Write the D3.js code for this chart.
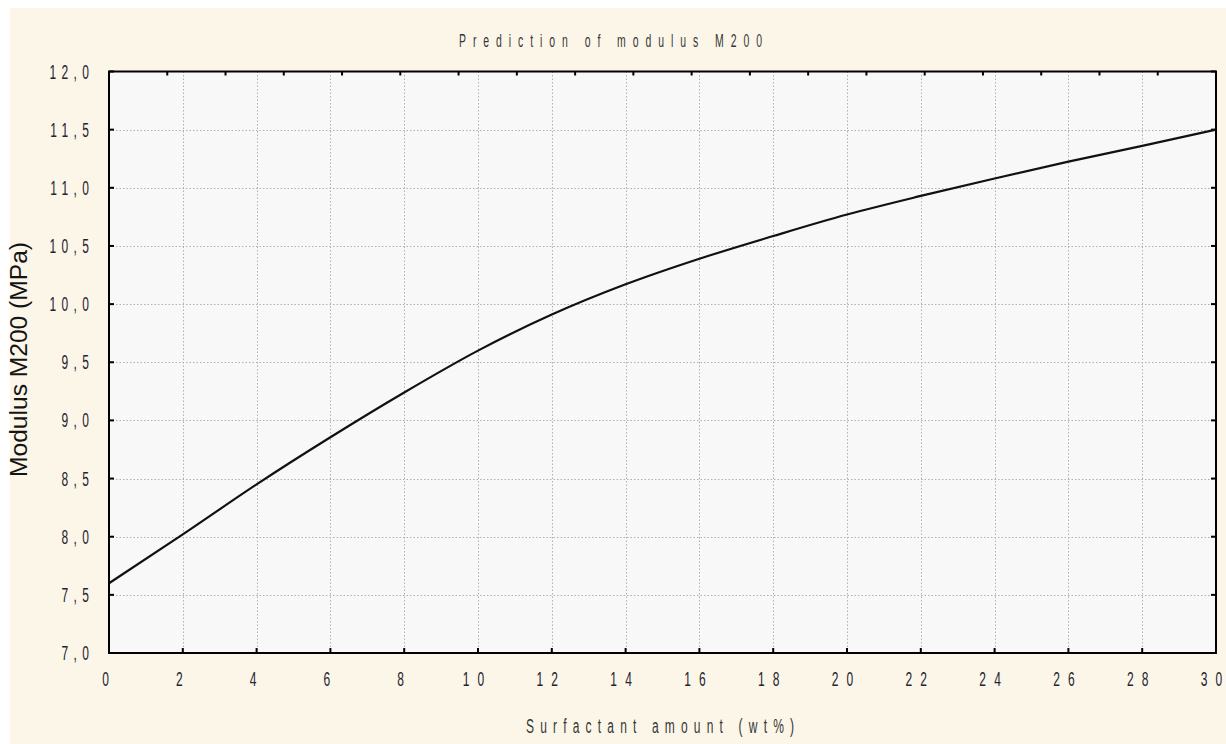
<!DOCTYPE html>
<html>
<head>
<meta charset="utf-8">
<script src="https://cdn.jsdelivr.net/npm/d3@7"></script>
<style>
  html, body { margin: 0; padding: 0; background: #ffffff; }
  svg { display: block; }
</style>
</head>
<body>
<svg id="chart" width="1226" height="744"></svg>
<script>
// Predicted modulus M200 against surfactant loading
const surfactant = [0, 2, 4, 6, 8, 10, 12, 14, 16, 18, 20, 22, 24, 26, 28, 30];
const modulus    = [7.60, 8.02, 8.45, 8.855, 9.24, 9.60, 9.91, 10.17, 10.39, 10.585,
                    10.77, 10.93, 11.08, 11.225, 11.36, 11.50];

const xTickValues = [0, 2, 4, 6, 8, 10, 12, 14, 16, 18, 20, 22, 24, 26, 28, 30];
const yTickValues = [7.0, 7.5, 8.0, 8.5, 9.0, 9.5, 10.0, 10.5, 11.0, 11.5, 12.0];

const chartTitle = "Prediction of modulus M200";
const xAxisTitle = "Surfactant amount (wt%)";
const yAxisTitle = "Modulus M200 (MPa)";

const svg = d3.select("#chart");
const W = 1226, H = 744;
const plot = { left: 109, top: 71.5, right: 1216, bottom: 653 };

const x = d3.scaleLinear().domain([0, 30]).range([plot.left, plot.right]);
const y = d3.scaleLinear().domain([7, 12]).range([plot.bottom, plot.top]);
// the top frame carries its own evenly spaced minor ticks
const topTick = d3.scaleLinear().domain([0, 19]).range([plot.left, plot.right]);

const decimalComma = v => d3.format(".1f")(v).replace(".", ",");

// page background
svg.append("rect").attr("x", 10).attr("y", 8).attr("width", W - 10).attr("height", H - 8)
  .attr("fill", "#fcf6e9");

// plot area
svg.append("rect")
  .attr("x", plot.left).attr("y", plot.top)
  .attr("width", plot.right - plot.left).attr("height", plot.bottom - plot.top)
  .attr("fill", "#f8f8f8");

// dotted grid
const grid = svg.append("g").attr("stroke", "#b0b0b0").attr("stroke-width", 1)
  .attr("stroke-dasharray", "1.5,2");
grid.selectAll("line.v").data(xTickValues.filter(d => d > 0 && d < 30)).join("line")
  .attr("x1", d => Math.round(x(d)) + 0.5).attr("x2", d => Math.round(x(d)) + 0.5)
  .attr("y1", plot.top).attr("y2", plot.bottom);
grid.selectAll("line.h").data(yTickValues.filter(d => d > 7 && d < 12)).join("line")
  .attr("y1", d => Math.round(y(d)) + 0.5).attr("y2", d => Math.round(y(d)) + 0.5)
  .attr("x1", plot.left).attr("x2", plot.right);

// inward ticks on all four sides
const ticks = svg.append("g").attr("stroke", "#000").attr("stroke-width", 2);
ticks.selectAll("line.b").data(xTickValues).join("line")
  .attr("x1", d => x(d)).attr("x2", d => x(d))
  .attr("y1", plot.bottom).attr("y2", plot.bottom - 5);
ticks.selectAll("line.l").data(yTickValues).join("line")
  .attr("y1", d => y(d)).attr("y2", d => y(d))
  .attr("x1", plot.left).attr("x2", plot.left + 5);
ticks.selectAll("line.r").data(yTickValues).join("line")
  .attr("y1", d => y(d)).attr("y2", d => y(d))
  .attr("x1", plot.right).attr("x2", plot.right - 5);
ticks.selectAll("line.t").data(d3.range(1, 19)).join("line")
  .attr("x1", d => topTick(d)).attr("x2", d => topTick(d))
  .attr("y1", plot.top).attr("y2", plot.top + 4);

// response curve
const line = d3.line()
  .x((d, i) => x(surfactant[i]))
  .y(d => y(d))
  .curve(d3.curveMonotoneX);
svg.append("path")
  .attr("d", line(modulus))
  .attr("fill", "none")
  .attr("stroke", "#111")
  .attr("stroke-width", 2.2)
  .attr("stroke-linejoin", "round");

// frame
svg.append("rect")
  .attr("x", plot.left).attr("y", plot.top)
  .attr("width", plot.right - plot.left).attr("height", plot.bottom - plot.top)
  .attr("fill", "none").attr("stroke", "#000").attr("stroke-width", 2);

// narrow, letter-spaced text
function condensed(str, o) {
  const g = svg.append("g")
    .attr("transform", `translate(${o.x},${o.y}) scale(${o.sx},1)`);
  const t = g.append("text")
    .text(str)
    .attr("font-family", "'Liberation Sans', Arial, sans-serif")
    .attr("font-size", o.size)
    .attr("fill", o.fill || "#24242f");
  if (o.width) {
    t.attr("x", -o.width / (2 * o.sx))
      .attr("textLength", o.width / o.sx)
      .attr("lengthAdjust", "spacing");
  } else {
    t.attr("letter-spacing", o.ls / o.sx)
      .attr("text-anchor", o.anchor || "start");
  }
  return t;
}

// y tick labels
yTickValues.forEach(v => {
  condensed(decimalComma(v), {
    x: 89 + 5.4, y: y(v) + 7, sx: 0.6, size: 20, ls: 5.4, anchor: "end"
  });
});

// x tick labels: the glyph span is fitted exactly, so nothing trails past the frame
xTickValues.forEach(v => {
  const s = String(v);
  const single = s.length === 1;
  condensed(s, {
    x: x(v) - (single ? 3.5 : 4.5), y: 686, sx: 0.6, size: 20,
    width: single ? 6.7 : 21.5
  });
});

// titles
condensed(chartTitle, { x: 610.5, y: 47, sx: 0.55, size: 19, width: 303, fill: "#363636" });
condensed(xAxisTitle, { x: 660, y: 733, sx: 0.6, size: 20, width: 268, fill: "#363636" });

svg.append("text")
  .attr("transform", `translate(27,359.5) rotate(-90)`)
  .attr("x", -117.5)
  .attr("textLength", 235)
  .attr("lengthAdjust", "spacingAndGlyphs")
  .attr("font-family", "'Liberation Sans', Arial, sans-serif")
  .attr("font-size", 23)
  .attr("fill", "#141414")
  .text(yAxisTitle);
</script>
</body>
</html>
